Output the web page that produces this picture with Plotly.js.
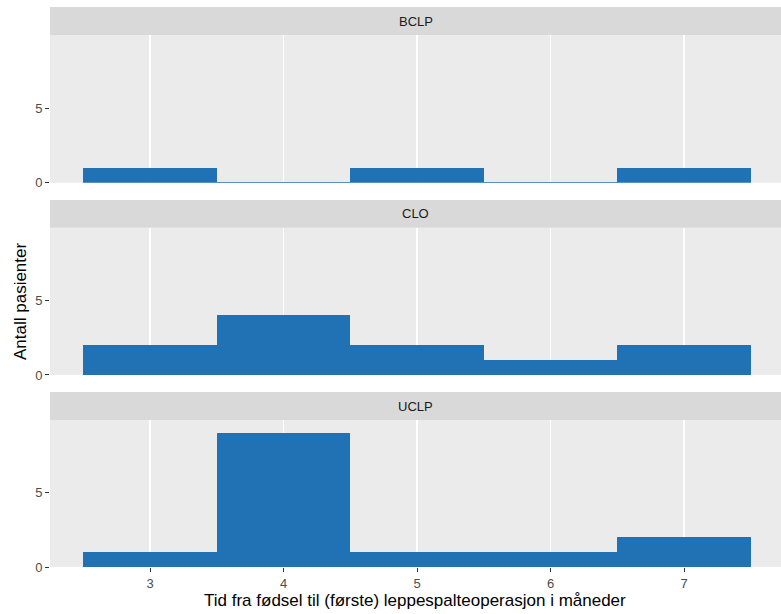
<!DOCTYPE html>
<html>
<head>
<meta charset="utf-8">
<script src="https://cdn.plot.ly/plotly-3.0.1.min.js"></script>
<style>html,body{margin:0;padding:0;background:#fff;}#chart{width:781px;height:614px;}</style>
</head>
<body>
<div id="chart"></div>
<script>
// Data
const months = [3, 4, 5, 6, 7];
const groups = ["BCLP", "CLO", "UCLP"];
const countsBCLP = [1, 0, 1, 0, 1];
const countsCLO = [2, 4, 2, 1, 2];
const countsUCLP = [1, 9, 1, 1, 2];
const xTitle = "Tid fra fødsel til (første) leppespalteoperasjon i måneder";
const yTitle = "Antall pasienter";

const allCounts = [countsBCLP, countsCLO, countsUCLP];
const barColor = "#2171B5";
const font = "Liberation Sans, Arial, Helvetica, sans-serif";

// domains (paper fraction from bottom)
const yDomains = [[0.68625, 0.95], [0.34286, 0.6059], [0, 0.2625]];
const stripDomains = [[0.95, 1.0], [0.6059, 0.6554], [0.2625, 0.3125]];

const traces = [];
allCounts.forEach((counts, i) => {
  const xa = i === 0 ? "x" : "x" + (i + 1);
  const ya = i === 0 ? "y" : "y" + (i + 1);
  traces.push({
    type: "bar", x: months, y: counts, width: 1,
    marker: {color: barColor, line: {width: 0}},
    xaxis: xa, yaxis: ya, hoverinfo: "skip", showlegend: false
  });
  // thin outline for empty bins (zero-height bars)
  const zx = [], zy = [];
  counts.forEach((c, j) => {
    if (c === 0) { zx.push(months[j] - 0.5, months[j] + 0.5, null); zy.push(0, 0, null); }
  });
  if (zx.length) {
    traces.push({
      type: "scatter", mode: "lines", x: zx, y: zy,
      line: {color: barColor, width: 1.2}, cliponaxis: false,
      xaxis: xa, yaxis: ya, hoverinfo: "skip", showlegend: false
    });
  }
});

const xr = [2.25, 2.25 + 731 / 133.5];
const layout = {
  width: 781, height: 614,
  margin: {l: 50, r: 0, t: 7, b: 47},
  paper_bgcolor: "#FFFFFF",
  plot_bgcolor: "#EBEBEB",
  font: {family: font, color: "#4D4D4D", size: 13},
  showlegend: false,
  bargap: 0,
  shapes: [],
  annotations: []
};

groups.forEach((g, i) => {
  const sfx = i === 0 ? "" : String(i + 1);
  const bottom = i === 2;
  layout["xaxis" + sfx] = {
    domain: [0, 1], range: xr, anchor: "y" + sfx,
    matches: i === 0 ? undefined : "x",
    tickvals: months, ticktext: months.map(String),
    showgrid: true, gridcolor: "#FFFFFF", gridwidth: 1.6,
    zeroline: false, showline: false,
    ticks: bottom ? "outside" : "", ticklen: 4, tickwidth: 1, tickcolor: "#333333",
    showticklabels: bottom,
    tickfont: {family: font, size: 13, color: "#4D4D4D"},
    fixedrange: true
  };
  layout["yaxis" + sfx] = {
    domain: yDomains[i], range: [0, 9.9], anchor: "x" + sfx,
    tickvals: [0, 5], ticktext: ["0", "5"],
    showgrid: false, zeroline: false, showline: false,
    ticks: "outside", ticklen: 4, tickwidth: 1, tickcolor: "#333333",
    tickfont: {family: font, size: 13, color: "#4D4D4D"},
    fixedrange: true
  };
  layout.shapes.push({
    type: "rect", xref: "paper", yref: "paper",
    x0: 0, x1: 1, y0: stripDomains[i][0], y1: stripDomains[i][1],
    fillcolor: "#D9D9D9", line: {width: 0}, layer: "below"
  });
  layout.annotations.push({
    xref: "paper", yref: "paper", x: 0.5,
    y: (stripDomains[i][0] + stripDomains[i][1]) / 2,
    text: g, showarrow: false, xanchor: "center", yanchor: "middle",
    font: {family: font, size: 13, color: "#1A1A1A"}
  });
});

layout.annotations.push({
  xref: "paper", yref: "paper", x: 0.4995, y: -0.0595,
  text: xTitle, showarrow: false, xanchor: "center", yanchor: "middle",
  font: {family: font, size: 17, color: "#000000"}
});
layout.annotations.push({
  xref: "paper", yref: "paper", x: -0.041, y: 0.475,
  text: yTitle, showarrow: false, xanchor: "center", yanchor: "middle",
  textangle: -90,
  font: {family: font, size: 17, color: "#000000"}
});

Plotly.newPlot("chart", traces, layout, {displayModeBar: false, staticPlot: true});
</script>
</body>
</html>
